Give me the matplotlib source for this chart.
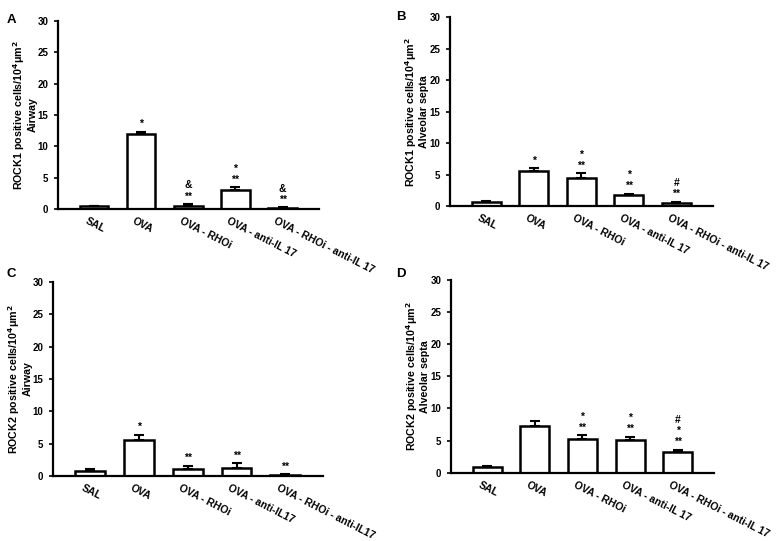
import numpy as np
import matplotlib.pyplot as plt

plt.rcParams['font.family'] = ['Liberation Sans', 'DejaVu Sans']
plt.rcParams['font.weight'] = 'bold'

groups = ['SAL', 'OVA', 'OVA - RHOi', 'OVA - anti-IL 17', 'OVA - RHOi - anti-IL 17']
groups_c = ['SAL', 'OVA', 'OVA - RHOi', 'OVA - anti-IL17', 'OVA - RHOi - anti-IL17']

# means and upper error (SEM)
rock1_airway = [0.45, 12.0, 0.5, 3.1, 0.15]
rock1_airway_err = [0.05, 0.35, 0.25, 0.35, 0.1]
rock1_septa = [0.65, 5.6, 4.4, 1.75, 0.45]
rock1_septa_err = [0.1, 0.4, 0.8, 0.2, 0.2]
rock2_airway = [0.85, 5.6, 1.05, 1.3, 0.2]
rock2_airway_err = [0.2, 0.8, 0.5, 0.7, 0.1]
rock2_septa = [0.95, 7.2, 5.2, 5.1, 3.2]
rock2_septa_err = [0.15, 0.9, 0.6, 0.5, 0.4]

# significance marks, bottom to top
marks_a = [[], ['*'], ['**', '&'], ['**', '*'], ['**', '&']]
marks_b = [[], ['*'], ['**', '*'], ['**', '*'], ['**', '#']]
marks_c = [[], ['*'], ['**'], ['**'], ['**']]
marks_d = [[], [], ['**', '*'], ['**', '*'], ['**', '*', '#']]

panels = [
    ('A', [0.0744, 0.6137, 0.3346, 0.3475], rock1_airway, rock1_airway_err, marks_a, groups, 'ROCK1', 'Airway'),
    ('B', [0.577, 0.619, 0.337, 0.349], rock1_septa, rock1_septa_err, marks_b, groups, 'ROCK1', 'Alveolar septa'),
    ('C', [0.068, 0.120, 0.346, 0.359], rock2_airway, rock2_airway_err, marks_c, groups_c, 'ROCK2', 'Airway'),
    ('D', [0.578, 0.126, 0.338, 0.357], rock2_septa, rock2_septa_err, marks_d, groups, 'ROCK2', 'Alveolar septa'),
]
letter_pos = {'A': (0.008, 0.975), 'B': (0.508, 0.98), 'C': (0.008, 0.505), 'D': (0.508, 0.505)}

fig = plt.figure(figsize=(7.8, 5.41), dpi=100)

for letter, rect, vals, errs, marks, labels, rock, site in panels:
    ax = fig.add_axes(rect)
    x = np.arange(len(vals))
    ax.bar(x, vals, width=0.61, color='white', edgecolor='black', linewidth=1.8,
           yerr=[np.zeros(len(vals)), errs], capsize=3.5,
           error_kw=dict(elinewidth=1.5, capthick=1.5, ecolor='black'))
    ax.set_xlim(-0.76, 4.77)
    ax.set_ylim(0, 30)
    ax.set_yticks(range(0, 31, 5))
    ax.set_xticks([])
    for s in ['top', 'right']:
        ax.spines[s].set_visible(False)
    for s in ['left', 'bottom']:
        ax.spines[s].set_linewidth(1.6)
    ax.tick_params(axis='y', direction='out', length=3, width=1.2, labelsize=7, pad=4)
    for t in ax.get_yticklabels():
        t.set_fontweight('bold')
    ax.set_ylabel(rock + ' positive cells/10$^{\\mathbf{4}}$\u03bcm$^{\\mathbf{2}}$\n' + site,
                  fontsize=7.7, fontweight='bold', labelpad=0, linespacing=1.0)

    for i, lab in enumerate(labels):
        ax.annotate(lab, xy=(i - 0.12, 0), xycoords='data', xytext=(0, -5),
                    textcoords='offset points', rotation=-27, rotation_mode='anchor',
                    ha='left', va='top', fontsize=7.5, fontweight='bold')

    for i, mk in enumerate(marks):
        top = vals[i] + errs[i]
        for j, m in enumerate(mk):
            ax.annotate(m, xy=(i, top), xytext=(0, 2 + 8 * j), textcoords='offset points',
                        ha='center', va='bottom', fontsize=7.5, fontweight='bold')

    fig.text(letter_pos[letter][0], letter_pos[letter][1], letter, fontsize=9.5,
             fontweight='bold', ha='left', va='top')

fig.savefig('out.png', dpi=100)
